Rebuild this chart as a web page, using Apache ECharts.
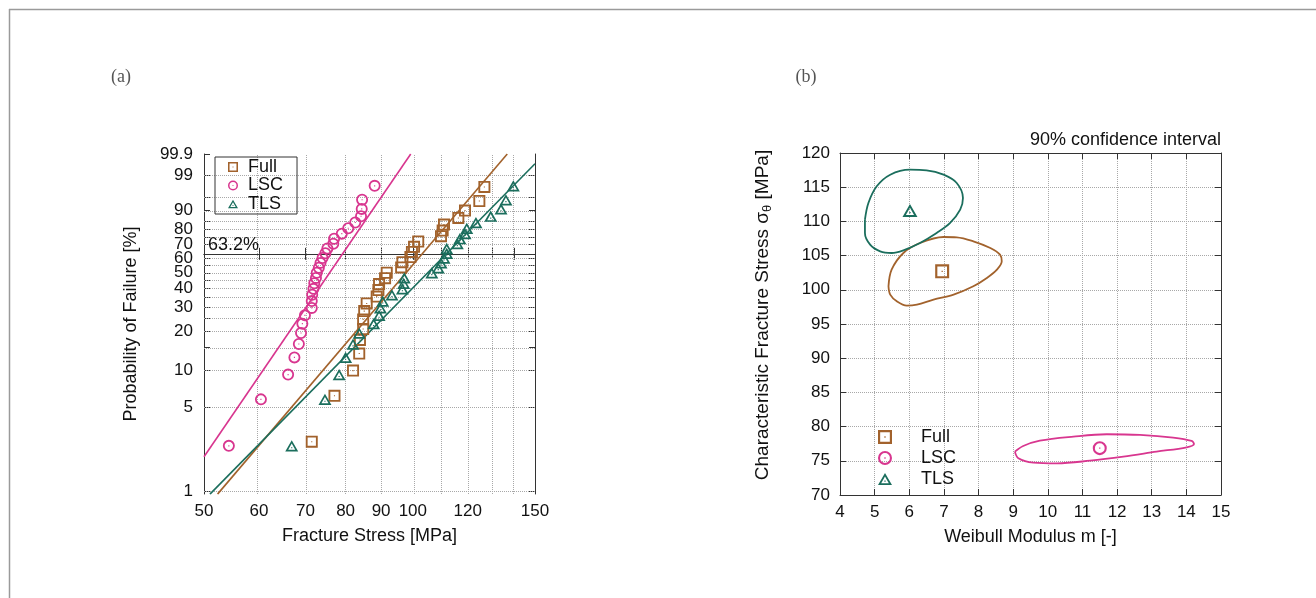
<!DOCTYPE html>
<html><head><meta charset="utf-8">
<script src="https://cdn.jsdelivr.net/npm/echarts@6/dist/echarts.min.js"></script>
<style>html,body{margin:0;padding:0;background:#fff}#c{width:1316px;height:598px}</style>
</head><body><div id="c"></div>
<script>
// ---------- Panel (a): Weibull probability plot ----------
const fullStress = [71.5, 77.1, 82.0, 83.7, 83.9, 84.8, 84.8, 85.1, 85.8, 88.7, 89.2, 89.4, 91.2, 91.7, 96.2, 96.6, 99.2, 99.7, 100.4, 101.8, 109.8, 110.4, 110.9, 116.3, 118.9, 124.7, 126.8];
const fullProb   = [2.6, 6.2, 9.9, 13.5, 17.2, 20.8, 24.5, 28.1, 31.8, 35.4, 39.1, 42.7, 46.4, 50.0, 53.6, 57.3, 60.9, 64.6, 68.2, 71.9, 75.5, 79.2, 82.8, 86.5, 90.1, 93.8, 97.4];
const lscStress  = [54.3, 60.4, 66.1, 67.5, 68.5, 69.0, 69.3, 69.9, 71.5, 71.5, 71.6, 71.9, 72.1, 72.5, 72.7, 73.2, 73.6, 74.1, 74.8, 75.3, 76.8, 77.0, 79.0, 80.7, 82.6, 84.2, 84.4, 84.5, 88.1];
const lscProb    = [2.4, 5.8, 9.2, 12.6, 16.0, 19.4, 22.8, 26.2, 29.6, 33.0, 36.4, 39.8, 43.2, 46.6, 50.0, 53.4, 56.8, 60.2, 63.6, 67.0, 70.4, 73.8, 77.2, 80.6, 84.0, 87.4, 90.8, 94.2, 97.6];
const tlsStress  = [66.9, 74.7, 78.3, 80.0, 82.0, 83.7, 87.8, 89.4, 89.8, 90.5, 93.3, 96.6, 97.0, 97.2, 106.5, 108.8, 109.8, 110.9, 111.9, 111.9, 115.9, 116.9, 118.9, 119.6, 123.3, 129.5, 134.0, 136.2, 139.6];
const tlsProb    = [2.4, 5.8, 9.2, 12.6, 16.0, 19.4, 22.8, 26.2, 29.6, 33.0, 36.4, 39.8, 43.2, 46.6, 50.0, 53.4, 56.8, 60.2, 63.6, 67.0, 70.4, 73.8, 77.2, 80.6, 84.0, 87.4, 90.8, 94.2, 97.6];
// fitted lines: endpoints [stress MPa, probability %]
const fullFit = [[52.3, 0.95], [136.8, 99.9]];
const lscFit  = [[50.0, 1.95], [99.3, 99.9]];
const tlsFit  = [[51.0, 0.95], [150.0, 99.67]];
// axes (a)
const probLabels   = [1, 5, 10, 20, 30, 40, 50, 60, 70, 80, 90, 99, 99.9];
const probGrid     = [1, 5, 10, 15, 20, 25, 30, 35, 40, 45, 50, 55, 60, 70, 75, 80, 85, 90, 95, 99];
const stressLabels = [50, 60, 70, 80, 90, 100, 120, 150];
const stressGrid   = [60, 70, 80, 90, 100, 110, 120, 130, 140];
const stressTicks  = [50, 60, 70, 80, 90, 100, 110, 120, 130, 140, 150];
const probMin = 0.952, probMax = 99.9, stressMin = 50, stressMax = 150;

// ---------- Panel (b): Weibull parameters with 90% confidence contours ----------
const fullPoint = [6.95, 102.7];
const lscPoint  = [11.5, 76.85];
const tlsPoint  = [6.02, 111.6];
const fullContour = [[5.40,100.51],[5.49,102.94],[5.83,105.38],[6.31,106.84],[6.99,107.72],[7.37,107.67],[7.85,107.09],[8.34,106.11],[8.62,105.14],[8.67,104.16],[8.53,102.94],[8.24,101.73],[7.85,100.51],[7.28,99.29],[6.70,98.56],[6.22,97.83],[5.93,97.68],[5.64,98.31],[5.45,99.29],[5.40,100.51]];
const lscContour  = [[9.05,76.34],[9.29,77.17],[9.77,77.95],[10.74,78.54],[11.70,78.88],[12.66,78.78],[13.62,78.39],[14.15,77.90],[14.22,77.46],[14.01,76.98],[13.14,76.34],[12.18,75.61],[11.22,75.02],[10.26,74.63],[9.58,74.73],[9.15,75.37],[9.05,76.34]];
const tlsContour  = [[4.72,110.25],[4.82,112.69],[5.06,115.13],[5.45,116.83],[6.02,117.56],[6.50,117.47],[6.99,116.83],[7.37,115.61],[7.55,113.42],[7.47,111.71],[7.18,109.77],[6.79,108.30],[6.31,106.84],[5.83,105.77],[5.49,105.38],[5.16,105.62],[4.87,106.60],[4.72,108.30],[4.72,110.25]];
const seriesNames = ['Full', 'LSC', 'TLS'];

// ---------- styling ----------
const C_FULL = '#a2622c', C_LSC = '#d8368f', C_TLS = '#1b6e5d';
const FONT = "'Liberation Sans', Arial, sans-serif";
const AX = '#333';
const SQ  = 'path://M0 0L20 0L20 20L0 20ZM3.1 3.1L3.1 16.9L16.9 16.9L16.9 3.1ZM9.1 9.1L10.9 9.1L10.9 10.9L9.1 10.9Z';
const CI  = 'path://M10 0A10 10 0 1 1 10 20A10 10 0 1 1 10 0ZM10 3A7 7 0 1 0 10 17A7 7 0 1 0 10 3ZM9.1 9.1L10.9 9.1L10.9 10.9L9.1 10.9Z';
const TR  = 'path://M10 0L20 17.32L0 17.32ZM10 5.2L4.57 14.72L15.43 14.72ZM9.1 10.65L10.9 10.65L10.9 12.45L9.1 12.45Z';

const T = p => Math.log(-Math.log(1 - p / 100));
const L = s => Math.log(s);
const nearestProb = v => { let b = probLabels[0], d = 1e9; for (const p of probLabels) { const e = Math.abs(T(p) - v); if (e < d) { d = e; b = p; } } return String(b); };

const tickA = (vals) => ({ show: true, inside: true, length: 6, lineStyle: { color: AX, width: 1 }, customValues: vals });
const lineAx = { show: true, lineStyle: { color: AX, width: 1 } };
const lab = { color: '#111', fontSize: 17, fontFamily: FONT };
const ttl = { fontSize: 18, color: '#111', fontFamily: FONT };

const chart = echarts.init(document.getElementById('c'), null, { renderer: 'canvas' });
const option = {
  animation: false,
  backgroundColor: '#fff',
  grid: [
    { left: 204, top: 154, width: 331, height: 340, containLabel: false },
    { left: 840, top: 153, width: 381, height: 342, containLabel: false }
  ],
  xAxis: [
    { gridIndex: 0, type: 'value', position: 'bottom', min: L(stressMin), max: L(stressMax),
      axisLine: lineAx, axisTick: tickA(stressTicks.map(L)), splitLine: { show: false },
      axisLabel: Object.assign({ margin: 9, customValues: stressLabels.map(L), formatter: v => String(Math.round(Math.exp(v))) }, lab),
      name: 'Fracture Stress [MPa]', nameLocation: 'middle', nameGap: 33, nameTextStyle: ttl },
    { gridIndex: 0, type: 'value', position: 'top', min: L(stressMin), max: L(stressMax),
      axisLine: lineAx, axisTick: tickA(stressTicks.map(L)), axisLabel: { show: false }, splitLine: { show: false } },
    { gridIndex: 1, type: 'value', position: 'bottom', min: 4, max: 15, interval: 1,
      axisLine: lineAx, axisTick: { inside: true, length: 6, lineStyle: { color: AX } },
      splitLine: { show: true, lineStyle: { type: 'dotted', color: '#a8a8a8', width: 1 } },
      axisLabel: Object.assign({ margin: 9 }, lab),
      name: 'Weibull Modulus m [-]', nameLocation: 'middle', nameGap: 33, nameTextStyle: ttl },
    { gridIndex: 1, type: 'value', position: 'top', min: 4, max: 15, interval: 1,
      axisLine: lineAx, axisTick: { inside: true, length: 6, lineStyle: { color: AX } }, axisLabel: { show: false }, splitLine: { show: false } }
  ],
  yAxis: [
    { gridIndex: 0, type: 'value', position: 'left', min: T(probMin), max: T(probMax),
      axisLine: lineAx, axisTick: tickA(probGrid.concat([99.9]).map(T)), splitLine: { show: false },
      axisLabel: Object.assign({ margin: 11, customValues: probLabels.map(T), formatter: nearestProb }, lab),
      name: 'Probability of Failure [%]', nameLocation: 'middle', nameGap: 64, nameTextStyle: ttl },
    { gridIndex: 0, type: 'value', position: 'right', min: T(probMin), max: T(probMax),
      axisLine: lineAx, axisTick: tickA(probGrid.map(T)), axisLabel: { show: false }, splitLine: { show: false } },
    { gridIndex: 1, type: 'value', position: 'left', min: 70, max: 120, interval: 5,
      axisLine: lineAx, axisTick: { inside: true, length: 6, lineStyle: { color: AX } },
      splitLine: { show: true, lineStyle: { type: 'dotted', color: '#a8a8a8', width: 1 } },
      axisLabel: Object.assign({ margin: 10 }, lab),
      name: 'Characteristic Fracture Stress σ{sub|θ} [MPa]', nameLocation: 'middle', nameGap: 66,
      nameTextStyle: { fontSize: 19, color: '#111', fontFamily: FONT, lineHeight: 22, padding: [0, 0, 0, 18],
        rich: { sub: { fontSize: 13, color: '#111', fontFamily: FONT, verticalAlign: 'bottom', lineHeight: 13 } } } },
    { gridIndex: 1, type: 'value', position: 'right', min: 70, max: 120, interval: 5,
      axisLine: lineAx, axisTick: { inside: true, length: 6, lineStyle: { color: AX } }, axisLabel: { show: false }, splitLine: { show: false } }
  ],
  legend: [
    { left: 215, top: 157, orient: 'vertical', selectedMode: false, borderColor: '#333', borderWidth: 1,
      padding: [1, 14, 1, 13], itemWidth: 10, itemHeight: 10, itemGap: 0.5,
      textStyle: { fontSize: 18, color: '#111', fontFamily: FONT, lineHeight: 16, padding: [0, 0, 0, 5] },
      data: [{ name: 'Full', icon: SQ }, { name: 'LSC', icon: CI }, { name: 'TLS', icon: TR }] },
    { left: 878, top: 428, orient: 'vertical', selectedMode: false, padding: 0,
      itemWidth: 14, itemHeight: 14, itemGap: 3,
      textStyle: { fontSize: 18, color: '#111', fontFamily: FONT, lineHeight: 16, padding: [0, 0, 0, 24] },
      data: [{ name: 'Full', icon: SQ }, { name: 'LSC', icon: CI }, { name: 'TLS', icon: TR }] }
  ],
  graphic: [
    { type: 'line', shape: { x1: 9, y1: 9.5, x2: 1316, y2: 9.5 }, style: { stroke: '#9a9a9a', lineWidth: 1.5 }, silent: true },
    { type: 'line', shape: { x1: 9.5, y1: 9, x2: 9.5, y2: 598 }, style: { stroke: '#9a9a9a', lineWidth: 1.5 }, silent: true },
    { type: 'text', x: 121, y: 77, style: { text: '(a)', font: "18px 'Liberation Serif', serif", fill: '#555', textAlign: 'center', textVerticalAlign: 'middle' } },
    { type: 'text', x: 806, y: 77, style: { text: '(b)', font: "18px 'Liberation Serif', serif", fill: '#555', textAlign: 'center', textVerticalAlign: 'middle' } },
    { type: 'text', x: 1221, y: 140, style: { text: '90% confidence interval', font: "18px 'Liberation Sans', Arial, sans-serif", fill: '#111', textAlign: 'right', textVerticalAlign: 'middle' } }
  ],
  series: []
};

const fitLine = (name, pts, color, extra) => Object.assign({
  name: name, type: 'line', xAxisIndex: 0, yAxisIndex: 0, symbol: 'none', silent: true, z: 3,
  data: pts.map(([s, p]) => [L(s), T(p)]), lineStyle: { color: color, width: 1.6 }
}, extra || {});

const gridMark = {
  silent: true, symbol: ['none', 'none'], z: 1, label: { show: false },
  lineStyle: { type: 'dotted', color: '#a8a8a8', width: 1 },
  emphasis: { disabled: true },
  data: probGrid.map(p => ({ yAxis: T(p) })).concat(stressGrid.map(s => ({ xAxis: L(s) }))).concat([
    { yAxis: T(63.2), lineStyle: { type: 'solid', color: '#333', width: 1.2 },
      label: { show: true, position: 'insideStartTop', formatter: '63.2%', color: '#111', fontSize: 18, fontFamily: FONT, distance: [4, 0] } }
  ])
};

option.series.push(fitLine('Full fit', fullFit, C_FULL, { markLine: gridMark }));
option.series.push(fitLine('LSC fit', lscFit, C_LSC));
option.series.push(fitLine('TLS fit', tlsFit, C_TLS));

const scatA = (name, xs, ps, sym, color, size) => ({
  name: name, type: 'scatter', xAxisIndex: 0, yAxisIndex: 0, symbol: sym, symbolSize: size, symbolKeepAspect: true, z: 4,
  data: xs.map((s, i) => [L(s), T(ps[i])]), itemStyle: { color: color, opacity: 1 }, silent: true
});
option.series.push(scatA('Full', fullStress, fullProb, SQ, C_FULL, 12));
option.series.push(scatA('LSC', lscStress, lscProb, CI, C_LSC, 12));
option.series.push(scatA('TLS', tlsStress, tlsProb, TR, C_TLS, 13));

const contour = (name, pts, color) => ({
  name: name, type: 'line', xAxisIndex: 2, yAxisIndex: 2, symbol: 'none', smooth: 0.35, silent: true, z: 3,
  data: pts, lineStyle: { color: color, width: 1.8 }
});
option.series.push(contour('Full contour', fullContour, C_FULL));
option.series.push(contour('LSC contour', lscContour, C_LSC));
option.series.push(contour('TLS contour', tlsContour, C_TLS));

const scatB = (name, pt, sym, color, size) => ({
  name: name, type: 'scatter', xAxisIndex: 2, yAxisIndex: 2, symbol: sym, symbolSize: size, symbolKeepAspect: true, z: 4,
  data: [pt], itemStyle: { color: color, opacity: 1 }, silent: true
});
option.series.push(scatB('Full', fullPoint, SQ, C_FULL, 14));
option.series.push(scatB('LSC', lscPoint, CI, C_LSC, 14));
option.series.push(scatB('TLS', tlsPoint, TR, C_TLS, 15));

chart.setOption(option);
</script>
</body></html>
